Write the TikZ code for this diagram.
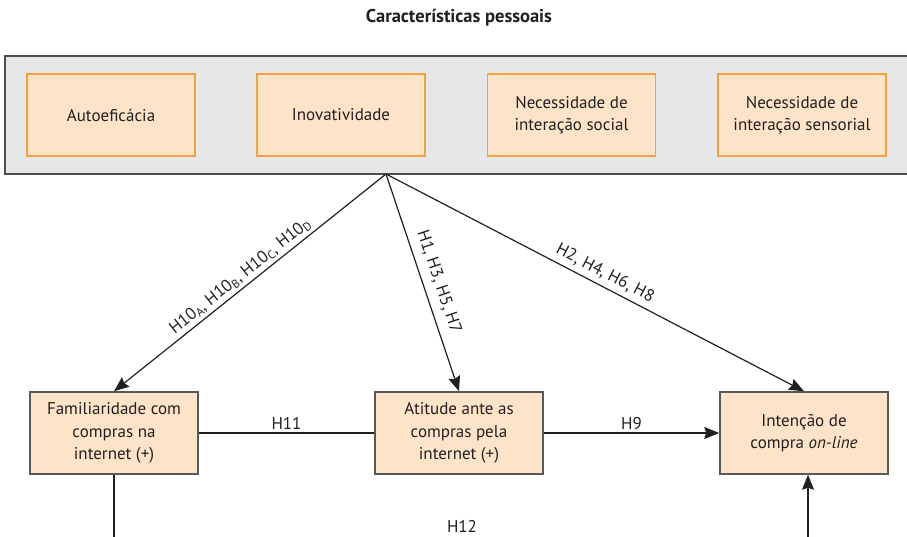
\documentclass[tikz,border=0pt]{standalone}
\usepackage{fontspec}
\setmainfont{PT Sans}
\usetikzlibrary{arrows.meta}
\definecolor{bandfill}{HTML}{E6E7E8}
\definecolor{bandline}{HTML}{4D4D4F}
\definecolor{boxfill}{HTML}{FDE4C8}
\definecolor{orangeline}{HTML}{F6A03D}
\definecolor{darkline}{HTML}{58595B}
\definecolor{ink}{HTML}{231F20}
\tikzset{
  txt/.style={font=\fontsize{17}{22.5}\selectfont, text=ink},
  bandbox/.style={draw=bandline, line width=1.8pt, fill=bandfill, minimum width=906pt, minimum height=118pt, inner sep=0pt},
  topbox/.style={txt, draw=orangeline, line width=1.5pt, fill=boxfill, minimum width=168pt, minimum height=82pt, align=center, inner sep=2pt},
  lowbox/.style={txt, draw=darkline, line width=1.5pt, fill=boxfill, minimum width=168pt, minimum height=82pt, align=center, inner sep=2pt},
  conn/.style={draw=ink, line width=1.2pt},
  arr/.style={conn, -{Stealth[length=15pt,width=12pt,inset=2pt]}},
  lab/.style={txt, inner sep=2pt}
}
\begin{document}
\begin{tikzpicture}[x=1pt,y=-1pt]
\useasboundingbox (0,0) rectangle (907,536);
\node[txt, font=\fontsize{18.5}{22}\selectfont\bfseries] (title) at (459,18) {Características pessoais};
\node[bandbox] (band) at (458,115) {};
\node[topbox] (auto) at (111,115) {Autoeficácia};
\node[topbox] (inov) at (341,115) {Inovatividade};
\node[topbox] (soc) at (571.5,115) {Necessidade de\\interação social};
\node[topbox] (sens) at (802,115) {Necessidade de\\interação sensorial};
\coordinate (apex) at (386,174);
\node[lowbox] (fam) at (114,433) {Familiaridade com\\compras na\\internet (+)};
\node[lowbox] (ati) at (459,433) {Atitude ante as\\compras pela\\internet (+)};
\node[lowbox] (int) at (804,433) {Intenção de\\compra \textit{on-line}};
\draw[arr] (apex) -- node[lab, sloped, above=1pt, pos=0.51] {H10\textsubscript{A}, H10\textsubscript{B}, H10\textsubscript{C}, H10\textsubscript{D}} (fam.north);
\draw[arr] (apex) -- node[lab, sloped, above=6pt, pos=0.52] {H1, H3, H5, H7} (ati.north);
\draw[arr] (apex) -- node[lab, sloped, above=3pt, pos=0.51] {H2, H4, H6, H8} (int.north);
\draw[conn] (fam.east) -- node[lab, above=1pt] {H11} (ati.west);
\draw[arr] (ati.east) -- node[lab, above=1pt] {H9} (int.west);
\coordinate (fambot) at (114,540);
\coordinate (intbot) at (808,540);
\draw[conn] (fam.south) -- (fambot);
\draw[arr] (intbot) -- (int.south -| intbot);
\node[lab] (h12) at (462,526) {H12};
\end{tikzpicture}
\end{document}
